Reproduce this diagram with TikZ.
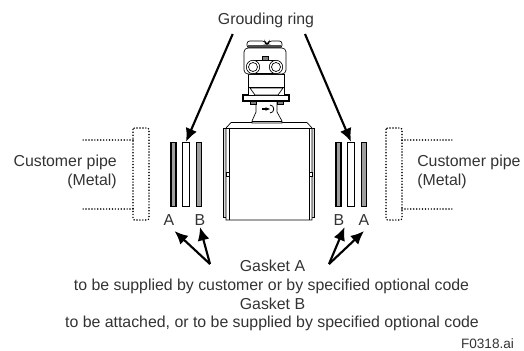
\documentclass[tikz,border=0pt]{standalone}
\usepackage{fontspec}
\setmainfont{Liberation Sans}
\usetikzlibrary{arrows.meta}
\definecolor{ringgray}{gray}{0.62}
\tikzset{
	label/.style={font=\fontsize{11.9}{14}\selectfont, text=black!80, inner sep=0pt},
	gasket/.style={draw, line width=1.1pt, fill=ringgray, minimum width=3.6pt, minimum height=48pt, inner sep=0pt},
	groundring/.style={draw, line width=1.1pt, fill=white, minimum width=5.6pt, minimum height=48pt, inner sep=0pt},
	pipe/.style={line width=1.25pt, line cap=round, dash pattern=on 0pt off 2.2pt},
	pointer/.style={line width=1.6pt, -{Latex[length=10pt,width=9pt]}},
	part/.style={draw, line width=0.5pt, fill=white}
}
\begin{document}
\begin{tikzpicture}[x=0.75pt,y=-0.75pt]
	\useasboundingbox (0,0) rectangle (524,350);

	% meter body
	\draw[part,fill=black!15] (223,128) rectangle (314,217);
	\draw[part] (226,220) -- (226,128) -- (231,122.5) -- (307,122.5) -- (312,128) -- (312,220) -- cycle;
	\draw[part] (229,128) -- (229,220);
	\draw[part] (309,128) -- (309,220);
	\draw[part] (226,128) -- (312,128);
	\draw[part] (226,172) rectangle (229,176);
	\draw[part] (309,172) rectangle (312,176);

	% stem and flange
	\draw[part] (252,123) -- (252,121) -- (256,112) -- (256,101) -- (277,101) -- (277,112) -- (282,121) -- (282,123) -- cycle;
	\draw[part] (252,121) -- (282,121);
	\draw[part,line width=1pt,->,>={Stealth[length=3.5pt]}] (262,109) -- (270,109);
	\draw[line width=0.6pt] (270,105) .. controls (275,105) and (275,113) .. (270,113);
	\draw[part,fill=black!50] (250,101) rectangle (256,104);
	\draw[part,fill=black!50] (277,101) rectangle (283,104);
	\draw[part,line width=0.8pt] (243,95) rectangle (289,101);
	\draw[part] (248,87) rectangle (284,95);
	\draw[part] (250,88) -- (283,88) -- (278,95) -- (255,95) -- cycle;
	\draw[part] (248,74) rectangle (284,87);

	% head
	\draw[part,rounded corners=2pt] (247,48) -- (247,41) -- (265,41) -- (266,44) -- (268,44) -- (269,41) -- (282,41) -- (282,48) -- cycle;
	\fill[black!70] (248,44.5) rectangle (281,48);
	\draw[part,rounded corners=3pt] (244,48) rectangle (286,74);
	\draw[part] (253,60) -- (276,60);
	\draw[part] (253,73) -- (276,73);
	\draw[part] (253,67) circle (6.7);
	\draw[part] (253,67) circle (4.5);
	\draw[part] (276,67) circle (6.7);
	\draw[part] (276,67) circle (4.5);
	\draw[part,fill=black!50] (262,56) rectangle (268,60);

	% rings, left
	\node[gasket] (gasketAl) at (173.5,174.5) {};
	\node[groundring] (ringl) at (186,174.5) {};
	\node[gasket] (gasketBl) at (199,174.5) {};
	% rings, right
	\node[gasket] (gasketBr) at (338.5,174.5) {};
	\node[groundring] (ringr) at (351,174.5) {};
	\node[gasket] (gasketAr) at (364,174.5) {};

	% customer pipes
	\draw[pipe,rounded corners=1pt] (133,128) rectangle (149,220);
	\draw[pipe] (133,140) -- (82,140);
	\draw[pipe] (133,209) -- (82,209);
	\draw[pipe,rounded corners=1pt] (386,128) rectangle (402,220);
	\draw[pipe] (402,140) -- (453,140);
	\draw[pipe] (402,209) -- (453,209);

	% labels
	\node[label] (ringtext) at (266,20) {Grouding ring};
	\node[label,align=right,anchor=east] (pipel) at (117,172) {Customer pipe\\(Metal)};
	\node[label,align=left,anchor=west] (piper) at (417,172) {Customer pipe\\(Metal)};
	\node[label] (Al) at (169,220) {A};
	\node[label] (Bl) at (200,220) {B};
	\node[label] (Br) at (339,220) {B};
	\node[label] (Ar) at (364,220) {A};
	\node[label] (gasketa) at (272.5,266) {Gasket A};
	\node[label] (codea) at (271.5,286) {to be supplied by customer or by specified optional code};
	\node[label] (gasketb) at (272.5,304) {Gasket B};
	\node[label] (codeb) at (272,323) {to be attached, or to be supplied by specified optional code};
	\node[label,font=\fontsize{10.2}{12}\selectfont] (figno) at (487.5,344) {F0318.ai};

	% pointers
	\coordinate (ringstartl) at (232.7,34);
	\coordinate (ringstartr) at (305,34);
	\draw[pointer] (ringstartl) -- (ringl.north);
	\draw[pointer] (ringstartr) -- (ringr.north);
	\coordinate (startl) at (210,264);
	\coordinate (startr) at (329,264);
	\draw[pointer] (startl) -- ([yshift=-4pt]Al.south east);
	\draw[pointer] (startl) -- ([yshift=-1pt]Bl.south);
	\draw[pointer] (startr) -- ([yshift=-1pt]Br.south east);
	\draw[pointer] (startr) -- ([yshift=-4pt]Ar.south);
\end{tikzpicture}
\end{document}
